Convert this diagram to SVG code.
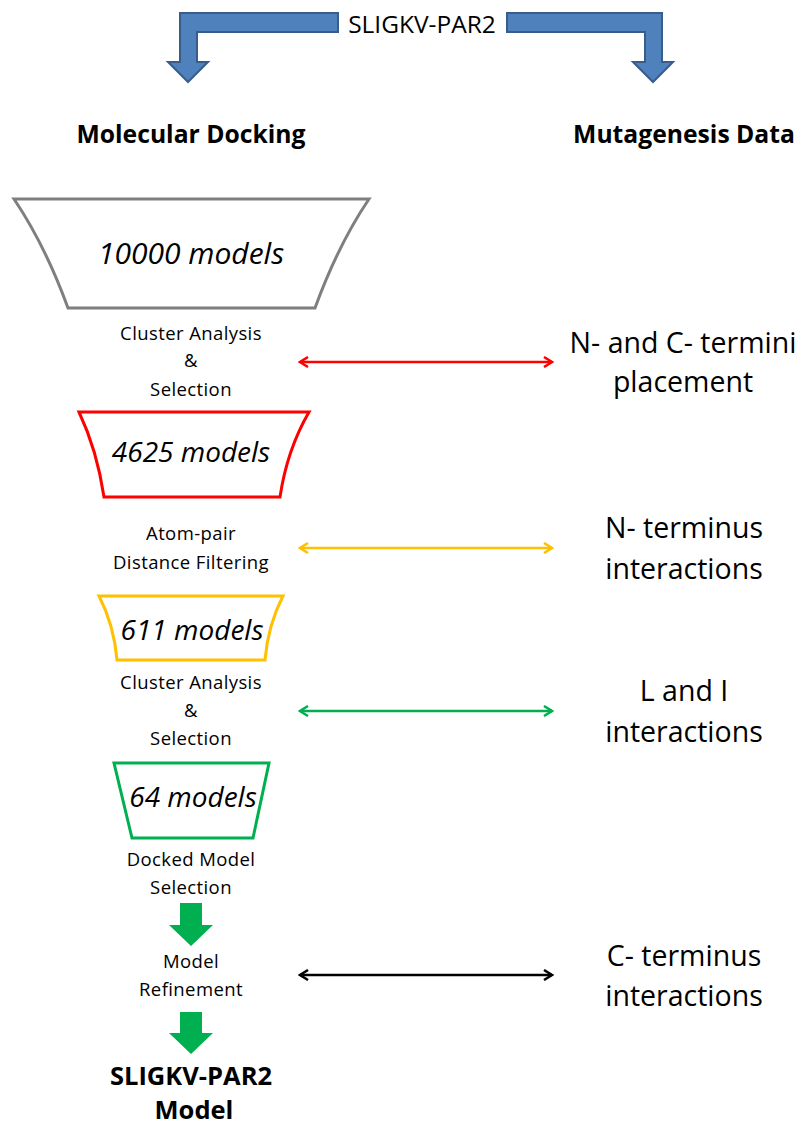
<svg xmlns="http://www.w3.org/2000/svg" width="802" height="1124" viewBox="0 0 802 1124">
<style>
text{font-family:"Open Sans","Liberation Sans",sans-serif;fill:#000;text-anchor:middle}
.step{font-size:18.5px;letter-spacing:0.4px}
.big{font-size:28.5px}
.title{font-size:24.7px;font-weight:bold}
.cnt{font-size:28px;font-style:italic}
.fin{font-size:25.5px;font-weight:bold}
.blue{fill:#4F81BD;stroke:#385D8A;stroke-width:2}
.funnel{fill:#fff;stroke-width:3}
.conn{fill:none;stroke-width:2.5}
</style>
<defs>
<marker id="mr" viewBox="0 0 12 12" refX="10" refY="6" markerWidth="12" markerHeight="12" markerUnits="userSpaceOnUse" orient="auto-start-reverse"><path d="M2,1 L10,6 L2,11" fill="none" stroke="#FF0000" stroke-width="2.5"/></marker>
<marker id="my" viewBox="0 0 12 12" refX="10" refY="6" markerWidth="12" markerHeight="12" markerUnits="userSpaceOnUse" orient="auto-start-reverse"><path d="M2,1 L10,6 L2,11" fill="none" stroke="#FFC000" stroke-width="2.5"/></marker>
<marker id="mg" viewBox="0 0 12 12" refX="10" refY="6" markerWidth="12" markerHeight="12" markerUnits="userSpaceOnUse" orient="auto-start-reverse"><path d="M2,1 L10,6 L2,11" fill="none" stroke="#00B050" stroke-width="2.5"/></marker>
<marker id="mk" viewBox="0 0 12 12" refX="10" refY="6" markerWidth="12" markerHeight="12" markerUnits="userSpaceOnUse" orient="auto-start-reverse"><path d="M2,1 L10,6 L2,11" fill="none" stroke="#000" stroke-width="2.5"/></marker>
</defs>

<g id="source">
<path class="blue" d="M338,13 L180,13 L180,62 L168,62 L188,82 L208,62 L197,62 L197,32 L338,32 Z"/>
<path class="blue" d="M507,13 L662,13 L662,62 L673,62 L653,82 L633,62 L645,62 L645,32 L507,32 Z"/>
<text x="422" y="33" style="font-size:24.5px">SLIGKV-PAR2</text>
</g>

<g id="headers">
<text class="title" x="191" y="143">Molecular Docking</text>
<text class="title" x="684" y="143">Mutagenesis Data</text>
</g>

<g id="funnel-10000">
<path class="funnel" stroke="#7F7F7F" d="M14,199 L369,199 Q338,245 315,308 L68,308 Q45,245 14,199 Z"/>
<text class="cnt" x="191" y="264" style="font-size:30px">10000 models</text>
</g>
<g id="step-cluster1">
<text class="step" x="191" y="340">Cluster Analysis</text>
<text class="step" x="191" y="367">&amp;</text>
<text class="step" x="191" y="396">Selection</text>
</g>

<g id="funnel-4625">
<path class="funnel" stroke="#FF0000" d="M79,412 L309,412 Q287,450 280,497 L104,497 Q97,450 79,412 Z"/>
<text class="cnt" x="191" y="462">4625 models</text>
</g>
<g id="step-atom">
<text class="step" x="191" y="540">Atom-pair</text>
<text class="step" x="191" y="569">Distance Filtering</text>
</g>

<g id="funnel-611">
<path class="funnel" stroke="#FFC000" d="M99,596 L283,596 Q268,625 265,660 L117,660 Q114,625 99,596 Z"/>
<text class="cnt" x="192" y="640">611 models</text>
</g>
<g id="step-cluster2">
<text class="step" x="191" y="689">Cluster Analysis</text>
<text class="step" x="191" y="717">&amp;</text>
<text class="step" x="191" y="745">Selection</text>
</g>

<g id="funnel-64">
<path class="funnel" stroke="#00B050" d="M114,763 L269,763 L253,838 L132,838 Z"/>
<text class="cnt" x="193" y="807">64 models</text>
</g>
<g id="step-docked">
<text class="step" x="191" y="866">Docked Model</text>
<text class="step" x="191" y="894">Selection</text>
</g>
<g id="arrow-down1">
<path fill="#00B050" d="M180,903 L202,903 L202,925 L213,925 L191,946 L169,925 L180,925 Z"/>
</g>
<g id="step-refine">
<text class="step" x="191" y="968">Model</text>
<text class="step" x="191" y="996">Refinement</text>
</g>
<g id="arrow-down2">
<path fill="#00B050" d="M180,1012 L202,1012 L202,1033 L213,1033 L191,1054 L169,1033 L180,1033 Z"/>
</g>
<g id="final-model">
<text class="fin" x="191" y="1085">SLIGKV-PAR2</text>
<text class="fin" x="194" y="1119">Model</text>
</g>

<g id="data-termini">
<text class="big" x="683" y="353">N- and C- termini</text>
<text class="big" x="683" y="392">placement</text>
</g>
<g id="data-nterm">
<text class="big" x="684" y="538">N- terminus</text>
<text class="big" x="684" y="579">interactions</text>
</g>
<g id="data-li">
<text class="big" x="684" y="701">L and I</text>
<text class="big" x="684" y="742">interactions</text>
</g>
<g id="data-cterm">
<text class="big" x="684" y="966">C- terminus</text>
<text class="big" x="684" y="1006">interactions</text>
</g>

<g id="connectors">
<line class="conn" stroke="#FF0000" x1="300" y1="362" x2="552" y2="362" marker-start="url(#mr)" marker-end="url(#mr)"/>
<line class="conn" stroke="#FFC000" x1="300" y1="548" x2="552" y2="548" marker-start="url(#my)" marker-end="url(#my)"/>
<line class="conn" stroke="#00B050" x1="300" y1="711" x2="552" y2="711" marker-start="url(#mg)" marker-end="url(#mg)"/>
<line class="conn" stroke="#000" x1="300" y1="975" x2="552" y2="975" marker-start="url(#mk)" marker-end="url(#mk)"/>
</g>
</svg>
